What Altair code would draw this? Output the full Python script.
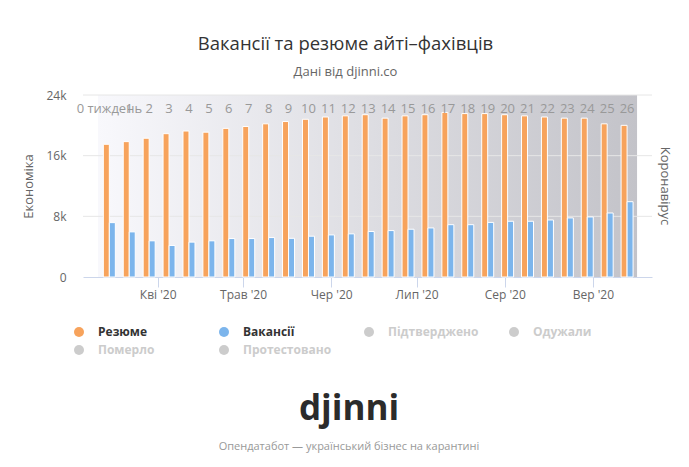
import json
import altair as alt
import pandas as pd

# ---------------- data ----------------
week_labels = ["0 тиждень"] + [str(i) for i in range(1, 27)]
week_dates = [
    "2020-03-15", "2020-03-22", "2020-03-29", "2020-04-05", "2020-04-12",
    "2020-04-19", "2020-04-26", "2020-05-03", "2020-05-10", "2020-05-17",
    "2020-05-24", "2020-05-31", "2020-06-07", "2020-06-14", "2020-06-21",
    "2020-06-28", "2020-07-05", "2020-07-12", "2020-07-19", "2020-07-26",
    "2020-08-02", "2020-08-09", "2020-08-16", "2020-08-23", "2020-08-30",
    "2020-09-06", "2020-09-13",
]
resume = [17500, 17850, 18300, 18900, 19250, 19100, 19600, 19850, 20200, 20500,
          20800, 21100, 21250, 21400, 20950, 21250, 21400, 21700, 21550, 21550,
          21400, 21250, 21100, 20950, 20950, 20200, 20000]
vacancies = [7170, 5950, 4770, 4160, 4600, 4770, 5070, 5070, 5200, 5100,
             5380, 5550, 5690, 6000, 6120, 6300, 6470, 6900, 6900, 7200,
             7350, 7350, 7520, 7790, 7920, 8440, 9930]

series_names = ["Резюме", "Вакансії", "Підтверджено", "Одужали", "Померло", "Протестовано"]
series_colors = ["#f7a35c", "#7cb5ec", "#cccccc", "#cccccc", "#cccccc", "#cccccc"]
active_series = ["Резюме", "Вакансії"]

month_labels = ["Кві '20", "Трав '20", "Чер '20", "Лип '20", "Сер '20", "Вер '20"]
month_numbers = [4, 5, 6, 7, 8, 9]
y_ticks = [0, 8000, 16000, 24000]
grid_values = [8000, 16000, 24000]
x_domain = ["2020-03-07T12:00:00Z", "2020-09-20T00:00:00Z"]
band_range = ["2020-03-11T00:00:00Z", "2020-09-16T12:00:00Z"]

# ---------------- tables ----------------
rows = []
for d, lab, r, v in zip(week_dates, week_labels, resume, vacancies):
    rows.append({"date": d, "week": lab, "series": "Резюме", "value": r})
    rows.append({"date": d, "week": lab, "series": "Вакансії", "value": v})
df = pd.DataFrame(rows)
weeks_df = pd.DataFrame({"date": week_dates, "week": week_labels})
band_df = pd.DataFrame({"start": [band_range[0]], "end": [band_range[1]]})
grid_df = pd.DataFrame({"v": grid_values})

W, H = 569, 182
FONT = "Open Sans"

xscale = alt.Scale(type="utc", domain=x_domain)
yscale = alt.Scale(domain=[0, 24000], nice=False)

month_expr = json.dumps(month_labels) + "[utcmonth(datum.value) - 3]"
x_axis = alt.Axis(
    values=[alt.DateTime(year=2020, month=m, date=1, utc=True) for m in month_numbers],
    labelExpr=month_expr, title=None, grid=False,
    domainColor="#ccd6eb", tickColor="#ccd6eb", tickSize=10,
    labelColor="#666666", labelFontSize=12, labelPadding=2, labelFont=FONT,
)
y_axis = alt.Axis(
    values=y_ticks,
    labelExpr="datum.value == 0 ? '0' : (datum.value / 1000) + 'k'",
    title="Економіка", titleColor="#666666", titleFontSize=13, titleFontWeight="normal",
    titlePadding=10, titleFont=FONT,
    grid=False, domain=False, ticks=False,
    labelColor="#666666", labelFontSize=12, labelPadding=17, labelFont=FONT,
)

color_scale = alt.Scale(domain=series_names, range=series_colors)
label_color_expr = "indexof(" + json.dumps(active_series) + ", datum.value) >= 0 ? '#333333' : '#cccccc'"
legend = alt.Legend(
    title=None, orient="none", legendX=-10, legendY=231,
    direction="horizontal", columns=4, gridAlign="all",
    symbolType="circle", symbolSize=100, symbolStrokeWidth=0,
    labelFont=FONT, labelFontSize=12, labelFontWeight="bold",
    labelColor=alt.ExprRef(label_color_expr),
    labelOffset=13, columnPadding=29, rowPadding=6, padding=0,
)

band = alt.Chart(band_df).mark_rect(
    fill=alt.Gradient(
        gradient="linear",
        stops=[alt.GradientStop(color="#f8f8fc", offset=0),
               alt.GradientStop(color="#c3c3c9", offset=1)],
        x1=0, x2=1, y1=0, y2=0,
    )
).encode(
    x=alt.X("start:T", scale=xscale, axis=x_axis),
    x2="end:T",
    y=alt.datum(0, type="quantitative", scale=yscale, axis=y_axis),
    y2=alt.datum(24000),
)

grid = alt.Chart(grid_df).mark_rule(color="#e6e6e6", strokeWidth=1).encode(
    y=alt.Y("v:Q", scale=yscale, axis=y_axis)
)

def bars(name, offset):
    return alt.Chart(df).transform_filter(
        alt.datum.series == name
    ).mark_bar(width=6, xOffset=offset, stroke="white", strokeWidth=1).encode(
        x=alt.X("date:T", scale=xscale, axis=x_axis),
        y=alt.Y("value:Q", scale=yscale, axis=y_axis),
        color=alt.Color("series:N", scale=color_scale, legend=legend),
    )

week_text = alt.Chart(weeks_df).mark_text(
    font=FONT, fontSize=13, color="#999999", baseline="middle"
).encode(
    x=alt.X("date:T", scale=xscale, axis=x_axis),
    y=alt.value(14),
    text="week:N",
)

right_title = alt.Chart(pd.DataFrame({"t": ["Коронавірус"]})).mark_text(
    font=FONT, fontSize=13, color="#666666", angle=90, baseline="middle", align="center"
).encode(x=alt.value(582), y=alt.value(91), text="t:N")

logo = alt.Chart(pd.DataFrame({"t": ["djinni"]})).mark_text(
    font=FONT, fontSize=35, fontWeight="bold", color="#2b2b2b", align="center", baseline="alphabetic"
).encode(x=alt.value(266), y=alt.value(325), text="t:N")

footer = alt.Chart(pd.DataFrame({"t": ["Опендатабот — український бізнес на карантині"]})).mark_text(
    font=FONT, fontSize=11, color="#999999", align="center", baseline="middle"
).encode(x=alt.value(266), y=alt.value(352), text="t:N")

chart = alt.layer(
    band, grid, bars("Резюме", -3), bars("Вакансії", 3), week_text, right_title, logo, footer
).properties(
    width=W, height=H,
    autosize=alt.AutoSizeParams(type="none"),
    padding={"left": 75, "top": 87, "right": 29, "bottom": 182},
    title=alt.TitleParams(
        text="Вакансії та резюме айті–фахівців",
        subtitle="Дані від djinni.co",
        font=FONT, fontSize=18.5, fontWeight="normal", color="#333333",
        subtitleFont=FONT, subtitleFontSize=13, subtitleColor="#666666",
        anchor="middle", dx=-22, offset=10, subtitlePadding=13,
    ),
).configure(
    background="white", font=FONT
).configure_view(stroke=None)

chart.save("out.html", embed_options={"renderer": "svg", "actions": False})
